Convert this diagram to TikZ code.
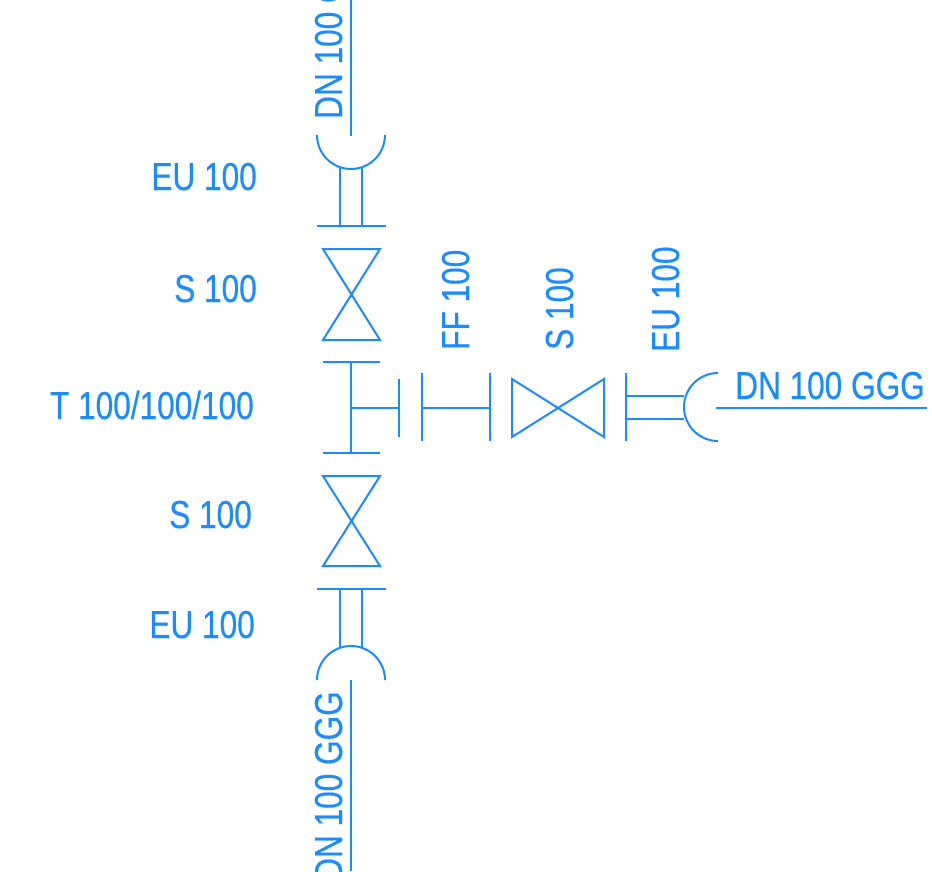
\documentclass[tikz,border=0pt]{standalone}
\usepackage{fontspec}
\setmainfont[FakeStretch=0.81, FakeBold=0.4]{Liberation Sans}
\usepackage{tikz}
\definecolor{pipeblue}{RGB}{26,140,255}
\tikzset{
    x=1pt, y=-1pt, % picture is laid out in pixels, y runs downwards
    pipe/.style={draw=pipeblue, line width=2pt}, % all the lines of the fittings
    label/.style={text=pipeblue, inner sep=0pt, font=\fontsize{39}{40}\selectfont}, % left hand labels
    leftlabel/.style={label, anchor=base east},
    uplabel/.style={label, anchor=base west, rotate=90},
}

\begin{document}
\begin{tikzpicture}
    \useasboundingbox (0,0) rectangle (932,871);
    \clip (0,0) rectangle (932,871);
    % labels
    \node[leftlabel] (euTopLabel) at (257,190) {EU 100};
    \node[leftlabel] (sTopLabel) at (257,302) {S 100};
    \node[leftlabel] (teeLabel) at (254,419) {T 100/100/100};
    \node[leftlabel] (sBottomLabel) at (252,528) {S 100};
    \node[leftlabel] (euBottomLabel) at (255,638) {EU 100};
    \node[uplabel] (dnTopLabel) at (342,119) {DN 100 GGG};
    \node[uplabel] (dnBottomLabel) at (342,881) {DN 100 GGG};
    \node[uplabel] (ffLabel) at (469,350) {FF 100};
    \node[uplabel] (sRightLabel) at (573,350) {S 100};
    \node[uplabel] (euRightLabel) at (679,352) {EU 100};
    \node[label, anchor=base west] (dnRightLabel) at (735,399) {DN 100 GGG};
    % free ends of the pipes
    \coordinate (topEnd) at (351,0);
    \coordinate (topStart) at (351,136);
    \coordinate (bottomStart) at (351,680);
    \coordinate (bottomEnd) at (351,871);
    \coordinate (rightStart) at (716,408);
    \coordinate (rightEnd) at (927,408);
    \draw[pipe] (topEnd) -- (topStart);
    \draw[pipe] (bottomStart) -- (bottomEnd);
    \draw[pipe] (rightStart) -- (rightEnd);
    % top EU piece
    \draw[pipe] (317,135) arc[start angle=180, end angle=0, radius=34];
    \draw[pipe] (340,168) -- (340,226) (362,168) -- (362,226);
    \draw[pipe] (317,226) -- (386,226);
    % vertical valves
    \foreach \ya/\yb in {249/340, 476/566}
        \draw[pipe] (323,\ya) -- (380,\ya) -- (323,\yb) -- (380,\yb) -- cycle;
    % T piece
    \draw[pipe] (323,362) -- (380,362);
    \draw[pipe] (323,453) -- (380,453);
    \draw[pipe] (351,362) -- (351,453);
    \draw[pipe] (351,408) -- (399,408);
    \draw[pipe] (399,379) -- (399,437);
    % FF piece
    \draw[pipe] (422,373) -- (422,441);
    \draw[pipe] (490,373) -- (490,441);
    \draw[pipe] (422,408) -- (490,408);
    % horizontal valve
    \draw[pipe] (512,379) -- (512,437) -- (604,379) -- (604,437) -- cycle;
    % right EU piece
    \draw[pipe] (626,373) -- (626,441);
    \draw[pipe] (626,396) -- (684,396) (626,419) -- (684,419);
    \draw[pipe] (718,373) arc[start angle=270, end angle=90, radius=34];
    % bottom EU piece
    \draw[pipe] (317,589) -- (386,589);
    \draw[pipe] (340,589) -- (340,648) (362,589) -- (362,648);
    \draw[pipe] (317,680) arc[start angle=180, end angle=360, radius=34];
\end{tikzpicture}
\end{document}
